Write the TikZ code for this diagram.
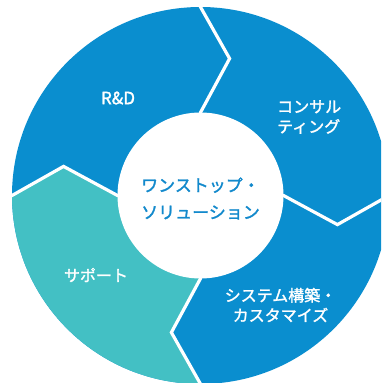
\documentclass[tikz,border=0pt]{standalone}
\usepackage{fontspec}
\setmainfont{Noto Sans CJK JP}[FakeBold=1.6]
\definecolor{segblue}{RGB}{10,142,207}
\definecolor{segteal}{RGB}{67,192,196}
\definecolor{ctrblue}{RGB}{18,137,204}
\begin{document}
\begin{tikzpicture}[x=1pt,y=1pt,
  seglabel/.style={text=white,font=\fontsize{16}{20}\selectfont,inner sep=0pt},
  divider/.style={draw=white,line width=3.2pt,line join=miter,miter limit=10}]
\useasboundingbox (0,0) rectangle (381,-383);
\clip (0,0) rectangle (381,-383);
\begin{scope}[shift={(200.5,-195.5)}]
  \fill[segblue] (0,0) circle (188.5);
  \fill[segteal] (270:83) -- (258:140) -- (270:188.5)
     arc[start angle=270,end angle=180,radius=188.5]
     -- (168:140) -- (180:83) -- cycle;
  \foreach \a in {90,0,270,180}
    \draw[divider] (\a:70) -- (\a:83) -- (\a-12:140) -- (\a:188.5) -- (\a:200);
  \fill[white] (0,0) circle (83);
  \node[text=ctrblue,font=\fontsize{17}{27}\selectfont,align=center,inner sep=0pt] (hub) at (0,-3) {ワンストップ・\\ソリューション};
\end{scope}
\node[seglabel,font=\fontsize{17}{20}\selectfont] (rd) at (118,-98) {R\&D};
\node[seglabel,align=left,anchor=west] (consult) at (277,-117) {コンサル\\ティング};
\node[seglabel,align=center] (system) at (280.5,-305) {システム構築・\\カスタマイズ};
\node[seglabel] (support) at (96,-275) {サポート};
\end{tikzpicture}
\end{document}
